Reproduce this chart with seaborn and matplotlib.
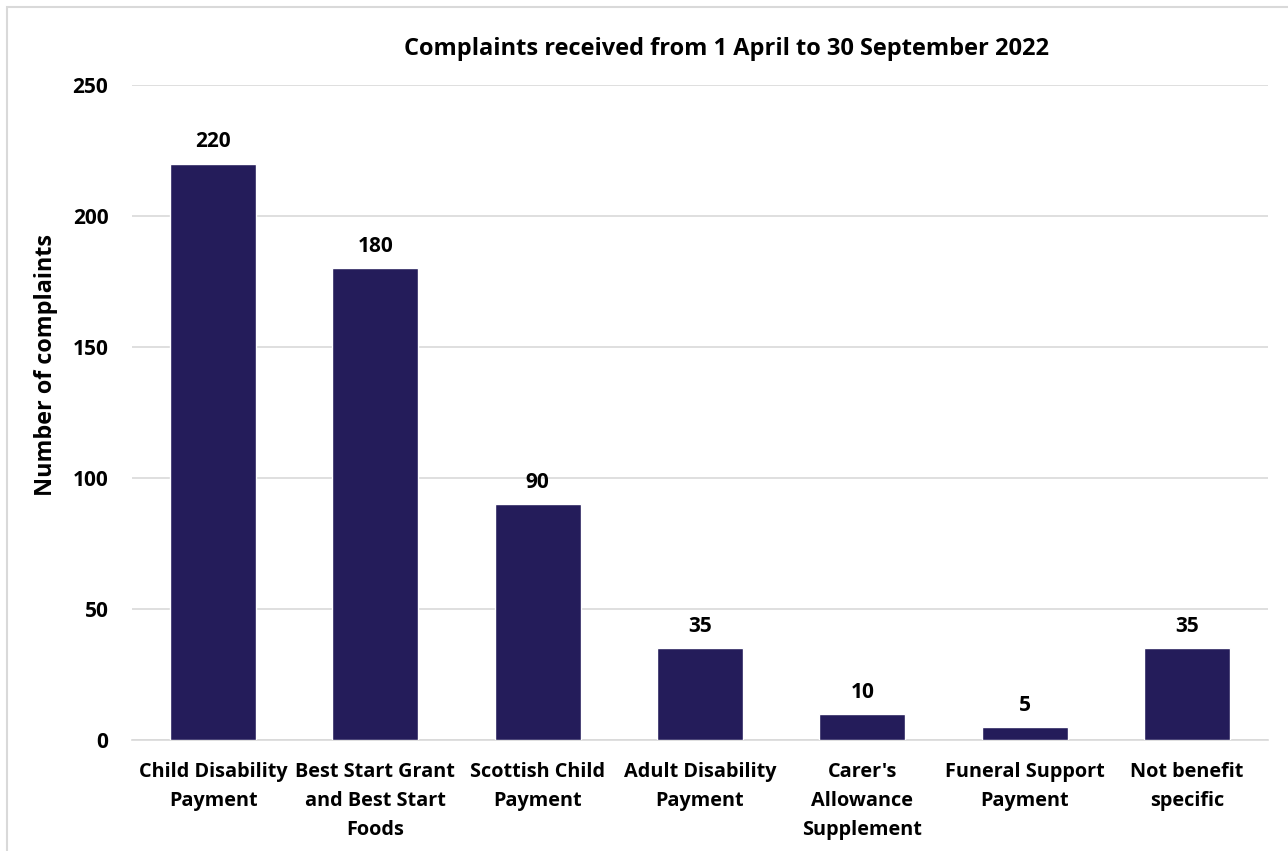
import matplotlib
matplotlib.use("Agg")
import matplotlib.pyplot as plt
from matplotlib.patches import Rectangle
import seaborn as sns
import pandas as pd

categories = [
    "Child Disability\nPayment",
    "Best Start Grant\nand Best Start\nFoods",
    "Scottish Child\nPayment",
    "Adult Disability\nPayment",
    "Carer's\nAllowance\nSupplement",
    "Funeral Support\nPayment",
    "Not benefit\nspecific",
]
complaints = [220, 180, 90, 35, 10, 5, 35]
y_ticks = [0, 50, 100, 150, 200, 250]

title = "Complaints received from 1 April to 30 September 2022"
y_label = "Number of complaints"

BAR = "#241C5A"
GRID = "#D9D9D9"
FONT = ["Open Sans", "DejaVu Sans"]

sns.set_theme(style="white")
plt.rcParams["font.family"] = FONT

df = pd.DataFrame({"category": categories, "complaints": complaints})

fig = plt.figure(figsize=(12.88, 8.51), dpi=100)
ax = fig.add_axes([132 / 1288, 1 - 740 / 851, (1268 - 132) / 1288, (740 - 85) / 851])

sns.barplot(data=df, x="category", y="complaints", color=BAR, width=0.53,
            saturation=1, ax=ax, zorder=3)

ax.set_ylim(0, 250)
ax.set_yticks(y_ticks)
ax.yaxis.grid(True, color=GRID, linewidth=1.2, zorder=0)
ax.set_axisbelow(True)
for side in ["top", "right", "left"]:
    ax.spines[side].set_visible(False)
ax.spines["bottom"].set_color(GRID)
ax.spines["bottom"].set_linewidth(1.2)
ax.tick_params(axis="both", length=0)
ax.tick_params(axis="y", pad=17)
ax.tick_params(axis="x", pad=16)
for lbl in ax.get_yticklabels():
    lbl.set_fontweight("bold")
    lbl.set_fontsize(15)
    lbl.set_color("black")
for lbl in ax.get_xticklabels():
    lbl.set_fontweight("bold")
    lbl.set_fontsize(14.3)
    lbl.set_color("black")
    lbl.set_linespacing(1.58)
ax.set_xlabel("")
ax.set_ylabel("")

for cont in ax.containers:
    ax.bar_label(cont, labels=[str(v) for v in complaints], padding=8,
                 fontsize=15, fontweight="bold", color="black")

fig.text(46 / 1288, 1 - 365 / 851, y_label, rotation=90, ha="center", va="center",
         fontsize=16.8, fontweight="bold", color="black")
fig.text(727 / 1288, 1 - 49 / 851, title, ha="center", va="center",
         fontsize=17, fontweight="bold", color="black")

fig.add_artist(Rectangle((7 / 1288, -0.1), 2, 1 - 7 / 851 + 0.1,
                         transform=fig.transFigure, fill=False,
                         edgecolor=GRID, linewidth=1.5))

fig.savefig("out.png", dpi=100, facecolor="white")
